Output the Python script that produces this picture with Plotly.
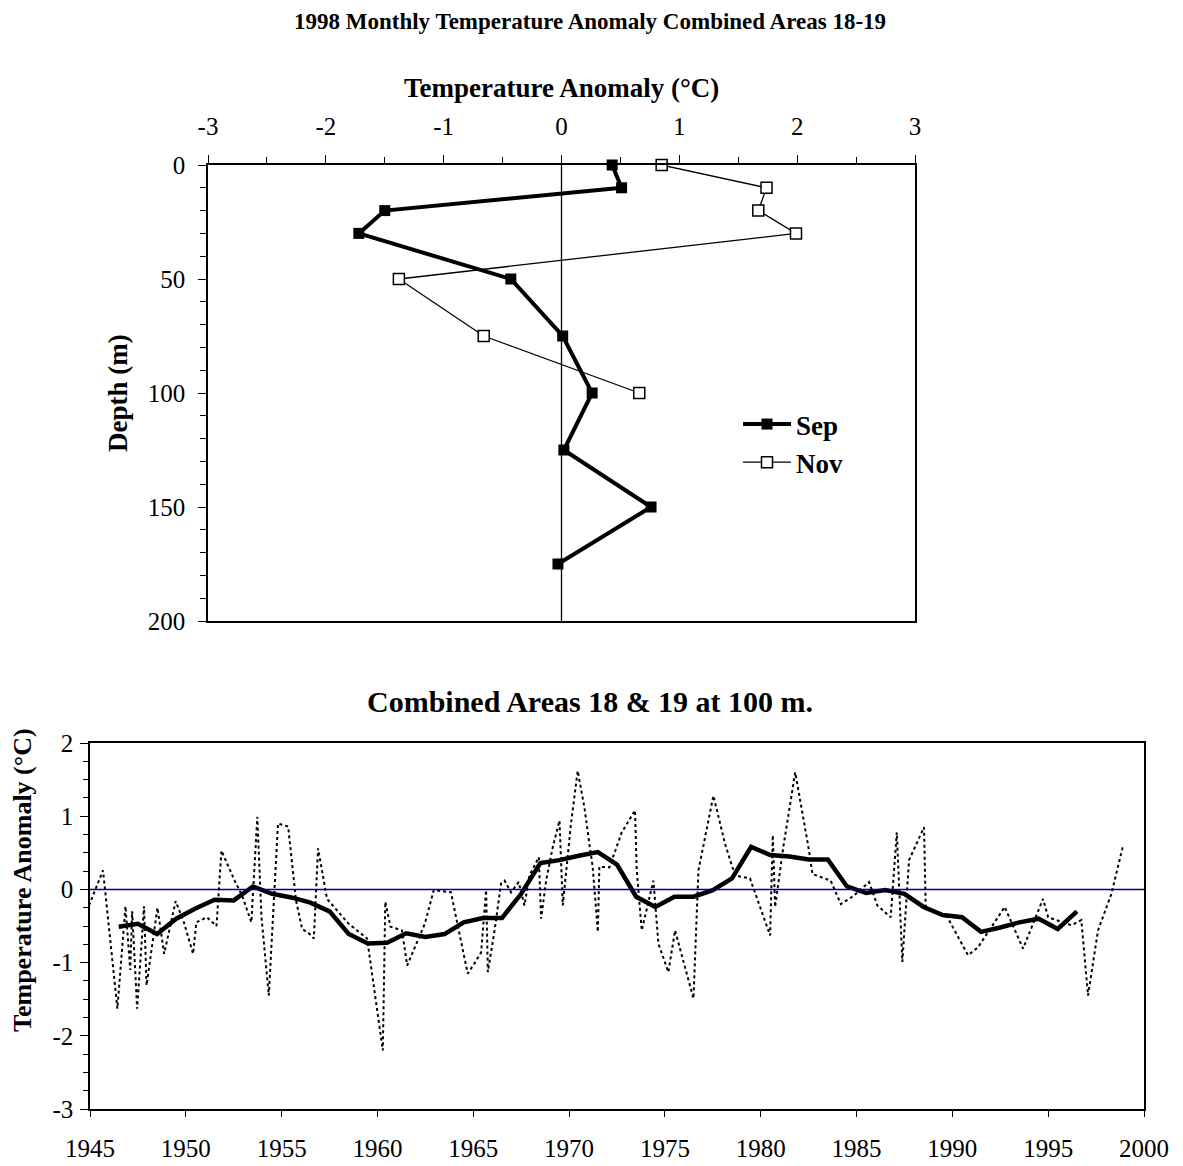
import plotly.graph_objects as go

# ---------------- data ----------------
depth_sep = [0, 10, 20, 30, 50, 75, 100, 125, 150, 175]
temp_sep = [0.43, 0.51, -1.50, -1.72, -0.43, 0.01, 0.26, 0.02, 0.76, -0.03]
depth_nov = [0, 10, 20, 30, 50, 75, 100]
temp_nov = [0.85, 1.74, 1.67, 1.99, -1.38, -0.66, 0.66]

mean_years = [1946.5 + i for i in range(51)]
mean_vals = [-0.51, -0.47, -0.61, -0.40, -0.26, -0.14, -0.15, 0.04, -0.06, -0.11,
             -0.18, -0.30, -0.61, -0.74, -0.73, -0.60, -0.65, -0.61, -0.45, -0.39,
             -0.39, -0.06, 0.36, 0.40, 0.46, 0.51, 0.34, -0.10, -0.24, -0.10,
             -0.10, -0.01, 0.15, 0.58, 0.47, 0.45, 0.41, 0.41, 0.04, -0.05,
             -0.01, -0.06, -0.24, -0.35, -0.38, -0.58, -0.52, -0.45, -0.40, -0.54,
             -0.30]

obs_years = [1944.95, 1945.68, 1946.43, 1946.85, 1947.1, 1947.2, 1947.46, 1947.82, 1947.95,
             1948.52, 1948.87, 1949.47, 1949.9, 1950.38, 1950.55, 1951.1, 1951.6, 1951.86,
             1952.55, 1952.93, 1953.42, 1953.73, 1953.95, 1954.33, 1954.81, 1955.34, 1955.75,
             1956.07, 1956.42, 1956.68, 1956.9, 1957.37, 1958.5, 1959.46, 1960.28, 1960.41,
             1960.68, 1961.28, 1961.55, 1962.47, 1962.94, 1963.84, 1964.1, 1964.71, 1965.11,
             1965.41, 1965.67, 1965.76, 1966.1, 1966.45, 1966.63, 1966.97, 1967.37, 1967.67,
             1967.93, 1968.42, 1968.54, 1968.8, 1969.15, 1969.5, 1969.67, 1969.84, 1970.1,
             1970.45, 1970.8, 1971.06, 1971.23, 1971.5, 1971.58, 1972.1, 1972.75, 1973.44,
             1973.53, 1973.79, 1974.4, 1974.66, 1975.18, 1975.53, 1976.49, 1976.75, 1977.53,
             1978.14, 1978.66, 1979.44, 1980.49, 1980.63, 1980.75, 1981.18, 1981.8, 1982.52,
             1982.7, 1983.65, 1984.18, 1984.79, 1985.65, 1986.09, 1986.78, 1987.1, 1987.39,
             1987.74, 1988.52, 1988.61, 1989.74, 1990.82, 1991.34, 1992.73, 1993.69, 1994.73,
             1995.0, 1996.21, 1996.73, 1997.08, 1997.6, 1998.3, 1998.91]
obs_vals = [-0.22, 0.26, -1.63, -0.23, -1.10, -0.30, -1.63, -0.23, -1.31,
            -0.25, -0.88, -0.16, -0.45, -0.88, -0.45, -0.38, -0.50, 0.53,
            0.12, -0.08, -0.45, 0.99, -0.38, -1.45, 0.90, 0.86, -0.15,
            -0.54, -0.60, -0.67, 0.56, -0.13, -0.47, -0.67, -2.20, -0.17,
            -0.51, -0.56, -1.04, -0.47, -0.01, -0.04, -0.38, -1.15, -0.99,
            -0.86, -0.01, -1.13, -0.58, 0.08, 0.12, -0.04, 0.10, -0.22,
            0.19, 0.44, -0.40, 0.12, 0.58, 0.94, -0.22, 0.21, 0.90,
            1.62, 1.12, 0.62, 0.31, -0.58, 0.31, 0.30, 0.78, 1.08,
            0.26, -0.56, 0.12, -0.74, -1.13, -0.56, -1.49, 0.26, 1.28,
            0.62, 0.19, 0.15, -0.63, 0.74, -0.24, 0.58, 1.60, 0.53,
            0.21, 0.12, -0.20, -0.10, 0.10, -0.22, -0.38, 0.78, -0.99,
            0.40, 0.85, -0.24, -0.38, -0.90, -0.79, -0.24, -0.81, -0.13,
            -0.38, -0.49, -0.42, -1.45, -0.56, -0.06, 0.60]

top_x_ticks = [-3, -2, -1, 0, 1, 2, 3]
top_x_labels = ["-3", "-2", "-1", "0", "1", "2", "3"]
top_y_ticks = [0, 50, 100, 150, 200]
top_y_labels = ["0", "50", "100", "150", "200"]
bot_x_ticks = [1945, 1950, 1955, 1960, 1965, 1970, 1975, 1980, 1985, 1990, 1995, 2000]
bot_x_labels = ["1945", "1950", "1955", "1960", "1965", "1970", "1975", "1980", "1985",
                "1990", "1995", "2000"]
bot_y_ticks = [-3, -2, -1, 0, 1, 2]
bot_y_labels = ["-3", "-2", "-1", "0", "1", "2"]

# ---------------- figure ----------------
W, H = 1183, 1166
FONT = "Liberation Serif, Times New Roman, serif"


def px(x):
    return x / W


def py(y):
    return 1 - y / H


fig = go.Figure()

fig.add_trace(go.Scatter(
    x=temp_sep, y=depth_sep, name="<b>Sep</b>", mode="lines+markers",
    line=dict(color="black", width=4),
    marker=dict(symbol="square", size=11, color="black"),
    cliponaxis=False,
    xaxis="x", yaxis="y", legendgroup="a"))
fig.add_trace(go.Scatter(
    x=temp_nov, y=depth_nov, name="<b>Nov</b>", mode="lines+markers",
    line=dict(color="black", width=1.3),
    marker=dict(symbol="square", size=11, color="white", line=dict(color="black", width=1.5)),
    cliponaxis=False,
    xaxis="x", yaxis="y", legendgroup="b"))

fig.add_trace(go.Scatter(
    x=obs_years, y=obs_vals, mode="lines", showlegend=False,
    line=dict(color="black", width=2, dash="3px,3px"),
    xaxis="x2", yaxis="y2"))
fig.add_trace(go.Scatter(
    x=mean_years, y=mean_vals, mode="lines", showlegend=False,
    line=dict(color="black", width=4.5),
    xaxis="x2", yaxis="y2"))

axfont = dict(family=FONT, size=25, color="black")
common = dict(showline=True, linecolor="black", linewidth=1.5, mirror=True,
              showgrid=False, zeroline=False, tickfont=axfont, automargin=False,
              tickwidth=1.3, tickcolor="black")

fig.update_layout(
    template="none",
    width=W, height=H,
    autosize=False,
    margin=dict(l=0, r=0, t=0, b=0, pad=0),
    paper_bgcolor="white", plot_bgcolor="white",
    font=dict(family=FONT, color="black"),
    xaxis=dict(domain=[px(208), px(915)], range=[-3, 3], side="top",
               tickvals=top_x_ticks, ticktext=top_x_labels, ticks="outside", ticklen=8,
               minor=dict(tickvals=[-2.5, -1.5, -0.5, 0.5, 1.5, 2.5], ticks="outside",
                          ticklen=6, tickwidth=1.3, tickcolor="black", showgrid=False),
               ticklabelstandoff=10, anchor="y", **common),
    yaxis=dict(domain=[py(621), py(165)], range=[200, 0],
               tickvals=top_y_ticks, ticktext=top_y_labels, ticks="outside", ticklen=8,
               minor=dict(dtick=10, ticks="outside", ticklen=6, tickwidth=1.3,
                          tickcolor="black", showgrid=False),
               ticklabelstandoff=8, anchor="x", **common),
    xaxis2=dict(domain=[px(90), px(1144)], range=[1945, 2000],
                tickvals=bot_x_ticks, ticktext=bot_x_labels, ticks="outside", ticklen=6,
                ticklabelstandoff=10, anchor="y2", **common),
    yaxis2=dict(domain=[py(1109), py(743)], range=[-3, 2],
                tickvals=bot_y_ticks, ticktext=bot_y_labels, ticks="outside", ticklen=8,
                minor=dict(dtick=0.25, ticks="outside", ticklen=5, tickwidth=1.3,
                           tickcolor="black", showgrid=False),
                ticklabelstandoff=2, anchor="x2", **common),
    legend=dict(x=px(738), y=py(400), xanchor="left", yanchor="top",
                font=dict(family=FONT, size=27, color="black"),
                bgcolor="rgba(0,0,0,0)", tracegroupgap=0, traceorder="grouped",
                itemwidth=48),
    shapes=[
        dict(type="line", xref="x", yref="y", x0=0, x1=0, y0=0, y1=200,
             line=dict(color="black", width=1.3)),
        dict(type="line", xref="x2", yref="y2", x0=1945, x1=2000, y0=0, y1=0,
             line=dict(color="#000080", width=1.5)),
    ],
)

ann_font = lambda s: dict(family=FONT, size=s, color="black")
annots = [
    ("<b>1998 Monthly Temperature Anomaly Combined Areas 18-19</b>", 590, 22, 23, 0),
    ("<b>Temperature Anomaly (°C)</b>", 561, 88, 27, 0),
    ("<b>Depth (m)</b>", 118, 393, 27, -90),
    ("<b>Combined Areas 18 & 19 at 100 m.</b>", 590, 702, 30, 0),
    ("<b>Temperature Anomaly (°C)</b>", 22, 880, 26, -90),
]
for text, ax, ay, size, angle in annots:
    fig.add_annotation(text=text, x=px(ax), y=py(ay), xref="paper", yref="paper",
                       xanchor="center", yanchor="middle", showarrow=False,
                       textangle=angle, font=ann_font(size))

fig.write_html("out.html", config={"displayModeBar": False},
               post_script="document.body.style.margin='0px';")
